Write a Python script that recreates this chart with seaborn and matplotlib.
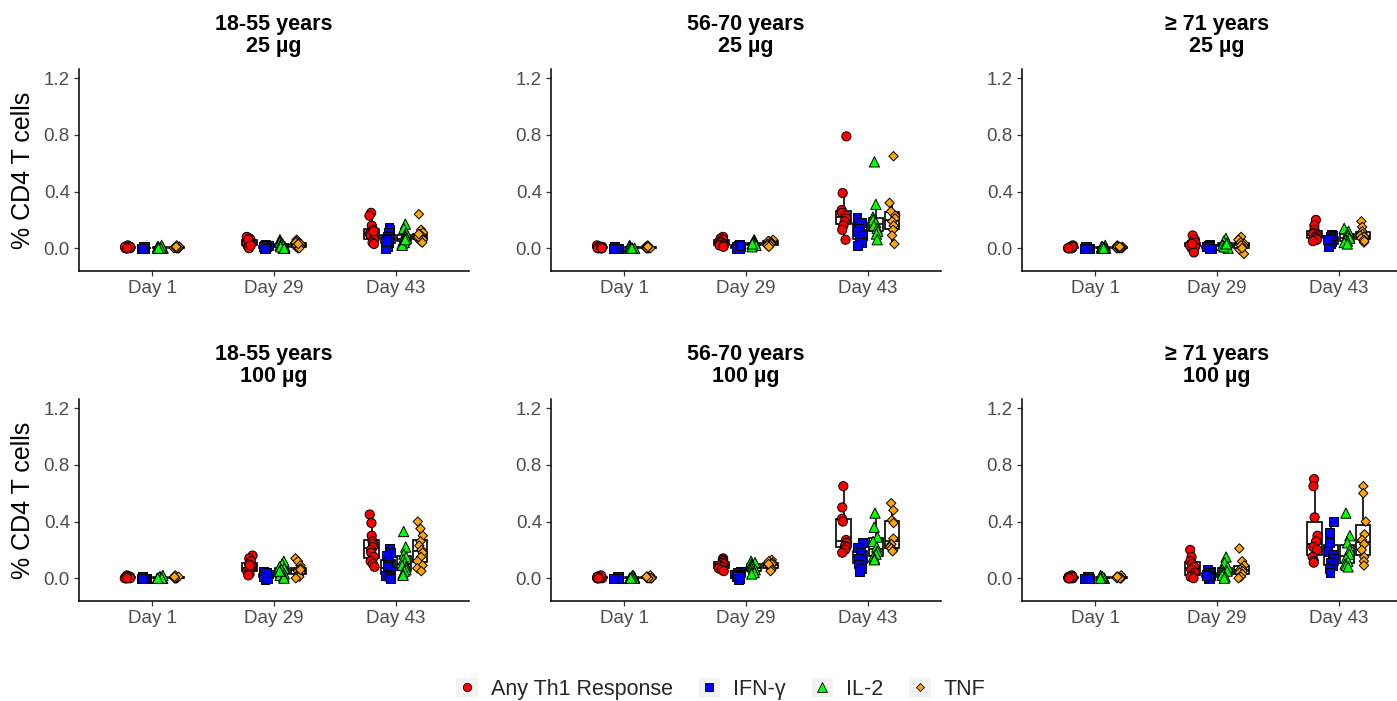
import numpy as np
import pandas as pd
import matplotlib
matplotlib.use("Agg")
import matplotlib.pyplot as plt
import seaborn as sns
from matplotlib.lines import Line2D
from matplotlib.patches import Rectangle
from matplotlib.legend_handler import HandlerTuple

days = ["Day 1", "Day 29", "Day 43"]
cytokines = ["Any Th1 Response", "IFN-γ", "IL-2", "TNF"]
colors = ["#FF0000", "#0000FF", "#00FF00", "#FFA500"]
shapes = ["o", "s", "^", "D"]
sizes = [6.6, 6.4, 7.4, 4.8]

age_groups = ["18-55 years", "56-70 years", "≥ 71 years"]
doses = ["25 µg", "100 µg"]

# baseline (Day 1) values, near zero everywhere
day1_th1 = [0.0, 0.01, 0.0, 0.02, 0.0, 0.01, 0.0, 0.0, 0.01, 0.0]
day1_ifn = [0.0, 0.0, 0.01, 0.0, 0.0, 0.0, 0.01, 0.0, 0.0, 0.0]
day1_il2 = [0.0, 0.01, 0.0, 0.0, 0.02, 0.0, 0.0, 0.01, 0.0, 0.0]
day1_tnf = [0.0, 0.01, 0.0, 0.02, 0.0, 0.0, 0.01, 0.0, 0.0, 0.01]

# each panel: cytokine -> [Day 29 values, Day 43 values]
young_25 = {
    "Any Th1 Response": [[0.08, 0.07, 0.06, 0.05, 0.04, 0.03, 0.03, 0.02, 0.01, 0.0, 0.06, 0.02],
                         [0.25, 0.23, 0.16, 0.13, 0.11, 0.1, 0.09, 0.07, 0.06, 0.04, 0.03, 0.12]],
    "IFN-γ": [[0.03, 0.02, 0.01, 0.0, 0.0, 0.01, 0.02, 0.0, 0.0, 0.01, 0.0, 0.0],
              [0.15, 0.13, 0.11, 0.09, 0.08, 0.07, 0.06, 0.04, 0.03, 0.01, 0.0, 0.05]],
    "IL-2": [[0.06, 0.05, 0.04, 0.03, 0.02, 0.01, 0.0, 0.03, 0.02, 0.01, 0.0, 0.0],
             [0.17, 0.14, 0.11, 0.09, 0.08, 0.07, 0.06, 0.05, 0.04, 0.03, 0.02, 0.06]],
    "TNF": [[0.06, 0.05, 0.04, 0.03, 0.02, 0.01, 0.0, 0.04, 0.02, 0.01, 0.0, 0.03],
            [0.24, 0.13, 0.11, 0.1, 0.09, 0.08, 0.07, 0.06, 0.05, 0.04, 0.08, 0.1]],
}
mid_25 = {
    "Any Th1 Response": [[0.08, 0.07, 0.06, 0.05, 0.04, 0.04, 0.03, 0.02, 0.02, 0.01],
                         [0.79, 0.39, 0.27, 0.25, 0.23, 0.21, 0.19, 0.16, 0.13, 0.06]],
    "IFN-γ": [[0.03, 0.02, 0.02, 0.01, 0.01, 0.0, 0.0, 0.01, 0.0, 0.02],
              [0.22, 0.2, 0.18, 0.16, 0.14, 0.12, 0.09, 0.06, 0.04, 0.02]],
    "IL-2": [[0.06, 0.05, 0.04, 0.04, 0.03, 0.03, 0.02, 0.02, 0.01, 0.03],
             [0.61, 0.31, 0.22, 0.2, 0.18, 0.16, 0.14, 0.12, 0.1, 0.06]],
    "TNF": [[0.06, 0.05, 0.05, 0.04, 0.04, 0.03, 0.03, 0.02, 0.02, 0.01],
            [0.65, 0.32, 0.26, 0.23, 0.21, 0.19, 0.16, 0.13, 0.09, 0.03]],
}
old_25 = {
    "Any Th1 Response": [[0.09, 0.06, 0.04, 0.03, 0.02, 0.01, 0.0, 0.02, -0.03, 0.03],
                         [0.2, 0.16, 0.13, 0.11, 0.1, 0.09, 0.08, 0.07, 0.06, 0.05]],
    "IFN-γ": [[0.03, 0.02, 0.01, 0.0, 0.0, 0.01, 0.02, 0.0, 0.01, 0.0],
              [0.1, 0.09, 0.08, 0.07, 0.05, 0.04, 0.03, 0.02, 0.01, 0.06]],
    "IL-2": [[0.07, 0.05, 0.04, 0.03, 0.02, 0.01, 0.0, 0.02, 0.01, 0.03],
             [0.14, 0.12, 0.1, 0.09, 0.08, 0.07, 0.06, 0.05, 0.04, 0.03]],
    "TNF": [[0.08, 0.06, 0.04, 0.03, 0.02, 0.01, -0.01, -0.04, 0.02, 0.0],
            [0.19, 0.15, 0.12, 0.1, 0.09, 0.08, 0.07, 0.06, 0.04, 0.05]],
}
young_100 = {
    "Any Th1 Response": [[0.16, 0.14, 0.12, 0.1, 0.08, 0.07, 0.06, 0.05, 0.04, 0.03, 0.02, 0.09],
                         [0.45, 0.39, 0.3, 0.26, 0.24, 0.22, 0.2, 0.18, 0.15, 0.12, 0.1, 0.08]],
    "IFN-γ": [[0.05, 0.04, 0.03, 0.02, 0.01, 0.0, -0.01, 0.02, 0.03, 0.01, 0.0, 0.04],
              [0.21, 0.18, 0.16, 0.12, 0.1, 0.08, 0.06, 0.05, 0.03, 0.02, 0.01, 0.0]],
    "IL-2": [[0.12, 0.1, 0.08, 0.07, 0.06, 0.05, 0.04, 0.03, 0.02, 0.01, 0.0, 0.05],
             [0.33, 0.22, 0.17, 0.15, 0.13, 0.11, 0.09, 0.08, 0.06, 0.05, 0.03, 0.02]],
    "TNF": [[0.14, 0.12, 0.09, 0.07, 0.06, 0.05, 0.04, 0.03, 0.02, 0.01, 0.0, 0.06],
            [0.4, 0.35, 0.3, 0.26, 0.23, 0.2, 0.18, 0.15, 0.12, 0.09, 0.07, 0.05]],
}
mid_100 = {
    "Any Th1 Response": [[0.14, 0.13, 0.12, 0.11, 0.1, 0.09, 0.08, 0.07, 0.06, 0.05],
                         [0.65, 0.5, 0.42, 0.4, 0.27, 0.25, 0.23, 0.22, 0.2, 0.18]],
    "IFN-γ": [[0.05, 0.04, 0.03, 0.03, 0.02, 0.01, 0.0, -0.01, 0.02, 0.01],
              [0.25, 0.22, 0.2, 0.18, 0.16, 0.14, 0.12, 0.1, 0.07, 0.05]],
    "IL-2": [[0.12, 0.11, 0.1, 0.09, 0.08, 0.07, 0.06, 0.05, 0.04, 0.03],
             [0.46, 0.36, 0.29, 0.26, 0.22, 0.19, 0.17, 0.15, 0.14, 0.13]],
    "TNF": [[0.13, 0.12, 0.11, 0.1, 0.09, 0.08, 0.07, 0.06, 0.05, 0.1],
            [0.53, 0.48, 0.41, 0.39, 0.28, 0.24, 0.22, 0.2, 0.21, 0.19]],
}
old_100 = {
    "Any Th1 Response": [[0.2, 0.15, 0.12, 0.1, 0.08, 0.06, 0.04, 0.02, 0.01, 0.0],
                         [0.7, 0.65, 0.43, 0.3, 0.26, 0.22, 0.2, 0.15, 0.12, 0.11]],
    "IFN-γ": [[0.06, 0.05, 0.04, 0.03, 0.02, 0.01, 0.0, 0.0, 0.01, 0.02],
              [0.4, 0.32, 0.25, 0.19, 0.17, 0.14, 0.11, 0.09, 0.07, 0.04]],
    "IL-2": [[0.15, 0.11, 0.08, 0.06, 0.05, 0.04, 0.03, 0.02, 0.01, 0.0],
             [0.46, 0.3, 0.25, 0.2, 0.17, 0.14, 0.12, 0.1, 0.09, 0.08]],
    "TNF": [[0.21, 0.12, 0.09, 0.07, 0.06, 0.05, 0.04, 0.03, 0.01, 0.0],
            [0.65, 0.6, 0.4, 0.31, 0.27, 0.24, 0.2, 0.15, 0.12, 0.09]],
}

panels = [[young_25, mid_25, old_25], [young_100, mid_100, old_100]]
baseline = {"Any Th1 Response": day1_th1, "IFN-γ": day1_ifn, "IL-2": day1_il2, "TNF": day1_tnf}


def panel_frame(panel):
    rows = []
    for c in cytokines:
        for v in baseline[c]:
            rows.append(("Day 1", c, v))
        for d, vals in zip(days[1:], panel[c]):
            for v in vals:
                rows.append((d, c, v))
    return pd.DataFrame(rows, columns=["day", "cytokine", "value"])


sns.set_style("white")
plt.rcParams["font.family"] = ["Liberation Sans", "DejaVu Sans"]
np.random.seed(3)

fig = plt.figure(figsize=(13.97, 7.01), dpi=100)
lefts = [79 / 1397, 551 / 1397, 1022 / 1397]
bottoms = [1 - 271 / 701, 1 - 601 / 701]
w, h = 390 / 1397, 202 / 701

# two empty outer hue slots so strips and boxes share a narrower dodge
slots = ["_l"] + cytokines + ["_r"]
white = {c: "white" for c in slots}
pal = dict(zip(slots, ["white"] + colors + ["white"]))
for r in range(2):
    for col in range(3):
        ax = fig.add_axes([lefts[col], bottoms[r], w, h])
        df = panel_frame(panels[r][col])
        sns.boxplot(data=df, x="day", y="value", hue="cytokine", order=days,
                    hue_order=slots, palette=white, dodge=True, width=0.8,
                    gap=0.12, linecolor="black", linewidth=1.2, showfliers=False,
                    showcaps=False, legend=False, ax=ax, zorder=0.5)
        for c, mk, sz in zip(cytokines, shapes, sizes):
            sns.stripplot(data=df[df["cytokine"] == c], x="day", y="value",
                          hue="cytokine", order=days, hue_order=slots,
                          palette=pal, dodge=True, jitter=0.15,
                          marker=mk, size=sz, edgecolor="black", linewidth=0.7,
                          legend=False, ax=ax, zorder=3)
        ax.set_xlim(-0.6, 2.6)
        ax.set_ylim(-0.161, 1.266)
        ax.set_yticks([0.0, 0.4, 0.8, 1.2])
        ax.set_yticklabels(["0.0", "0.4", "0.8", "1.2"])
        ax.set_xlabel("")
        ax.set_ylabel("% CD4 T cells" if col == 0 else "", fontsize=18,
                      labelpad=6, color="black")
        ax.set_title(f"{age_groups[col]}\n{doses[r]}", fontsize=15.5, color="black",
                     fontweight="bold", pad=12, linespacing=1.1)
        ax.tick_params(axis="both", length=3.5, width=0.9, color="#333333",
                       labelcolor="#4D4D4D", labelsize=13.5, pad=3, left=True, bottom=True)
        sns.despine(ax=ax)
        for s in ["left", "bottom"]:
            ax.spines[s].set_color("black")
            ax.spines[s].set_linewidth(1.1)

handles = []
for col_, mk, sz in zip(colors, shapes, [6, 6, 7, 4.5]):
    key = Rectangle((0, 0), 1, 1, facecolor="#F2F2F2", edgecolor="none")
    pt = Line2D([], [], linestyle="", marker=mk, markersize=sz,
                markerfacecolor=col_, markeredgecolor="black", markeredgewidth=0.6)
    handles.append((key, pt))
fig.legend(handles, cytokines, loc="center", bbox_to_anchor=(0.516, 1 - 689 / 701),
           ncol=4, frameon=False, fontsize=15.5, handlelength=1.0, handleheight=1.0,
           handletextpad=0.6, columnspacing=1.2,
           handler_map={tuple: HandlerTuple(ndivide=1, pad=0)})

fig.savefig("out.png", dpi=100)
